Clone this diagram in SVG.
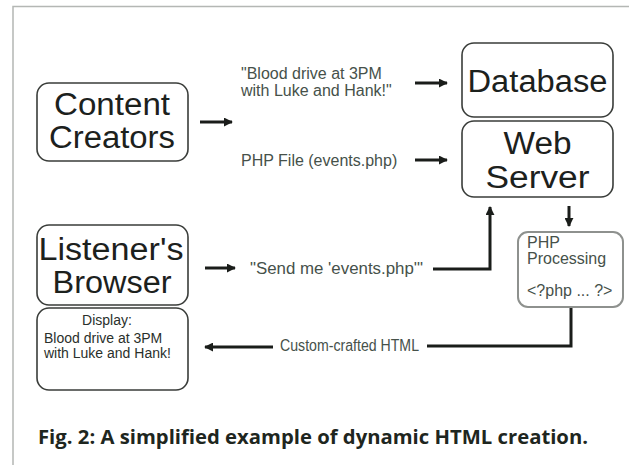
<svg xmlns="http://www.w3.org/2000/svg" width="629" height="465" viewBox="0 0 629 465">
  <style>
    .box { fill: #ffffff; stroke: #3a3d3a; stroke-width: 1.6; }
    .proc { fill: #ffffff; stroke: #8e918e; stroke-width: 2; }
    .big { font-family: "Liberation Sans", Arial, sans-serif; font-size: 31px; fill: #1c211d; text-anchor: middle; }
    .lbl { font-family: "Liberation Sans", Arial, sans-serif; font-size: 16px; fill: #46514a; }
    .sm { font-family: "Liberation Sans", Arial, sans-serif; font-size: 14px; fill: #2a302b; }
    .wire { fill: none; stroke: #1a1d1a; stroke-width: 3; }
    .cap { font-family: "Open Sans", "Liberation Sans", sans-serif; font-size: 20px; font-weight: bold; fill: #1e2620; }
  </style>
  <defs>
    <marker id="head" viewBox="0 0 10 10" refX="9" refY="5" markerWidth="3" markerHeight="3" orient="auto" markerUnits="strokeWidth">
      <path d="M0,0 L10,5 L0,10 Z" fill="#1a1d1a"/>
    </marker>
  </defs>

  <rect width="629" height="465" fill="#ffffff"/>

  <!-- frame -->
  <path d="M13,465 V6.5 H629" fill="none" stroke="#b4b7b4" stroke-width="1.5"/>

  <g id="content-creators">
    <rect class="box" x="37" y="83" width="151" height="78" rx="12"/>
    <text class="big" x="112" y="115" textLength="116" lengthAdjust="spacingAndGlyphs">Content</text>
    <text class="big" x="112" y="148" textLength="126" lengthAdjust="spacingAndGlyphs">Creators</text>
  </g>

  <g id="database">
    <rect class="box" x="462" y="43" width="151" height="74" rx="12"/>
    <text class="big" x="537.5" y="92" textLength="140" lengthAdjust="spacingAndGlyphs">Database</text>
  </g>

  <g id="web-server">
    <rect class="box" x="462" y="121" width="151" height="76" rx="12"/>
    <text class="big" x="537.5" y="154" textLength="68" lengthAdjust="spacingAndGlyphs">Web</text>
    <text class="big" x="537.5" y="188" textLength="104" lengthAdjust="spacingAndGlyphs">Server</text>
  </g>

  <g id="listeners-browser">
    <rect class="box" x="37" y="225" width="151" height="80" rx="12"/>
    <text class="big" x="111" y="260" textLength="145" lengthAdjust="spacingAndGlyphs">Listener's</text>
    <text class="big" x="112" y="293" textLength="119" lengthAdjust="spacingAndGlyphs">Browser</text>
  </g>

  <g id="display">
    <rect class="box" x="37" y="308" width="151" height="82" rx="12"/>
    <text class="sm" x="107" y="325" text-anchor="middle" font-size="15">Display:</text>
    <text class="sm" x="44" y="343">Blood drive at 3PM</text>
    <text class="sm" x="44" y="358">with Luke and Hank!</text>
  </g>

  <g id="php-processing">
    <rect class="proc" x="518" y="232" width="105" height="75" rx="10"/>
    <text class="lbl" x="527" y="248" font-size="15">PHP</text>
    <text class="lbl" x="527" y="264" font-size="15">Processing</text>
    <text class="lbl" x="527" y="296" font-size="15">&lt;?php ... ?&gt;</text>
  </g>

  <g id="connectors">
    <line class="wire" x1="200" y1="122" x2="232" y2="122" marker-end="url(#head)"/>
    <line class="wire" x1="415" y1="83" x2="447" y2="83" marker-end="url(#head)"/>
    <line class="wire" x1="415" y1="160" x2="447" y2="160" marker-end="url(#head)"/>
    <line class="wire" x1="205" y1="268" x2="235" y2="268" marker-end="url(#head)"/>
    <polyline class="wire" points="433,269 490,269 490,207" marker-end="url(#head)"/>
    <line class="wire" x1="569" y1="206" x2="569" y2="226" marker-end="url(#head)"/>
    <polyline class="wire" points="571,308 571,346 427,346"/>
    <line class="wire" x1="273" y1="347" x2="205" y2="347" marker-end="url(#head)"/>
  </g>

  <g id="labels">
    <text class="lbl" x="241" y="79">"Blood drive at 3PM</text>
    <text class="lbl" x="241" y="96">with Luke and Hank!"</text>
    <text class="lbl" x="241" y="166">PHP File (events.php)</text>
    <text class="lbl" x="250" y="274" textLength="173" lengthAdjust="spacingAndGlyphs">"Send me 'events.php'"</text>
    <text class="lbl" x="280" y="351" textLength="139" lengthAdjust="spacingAndGlyphs" font-size="14">Custom-crafted HTML</text>
  </g>

  <text class="cap" x="38" y="444" textLength="550" lengthAdjust="spacingAndGlyphs">Fig. 2: A simplified example of dynamic HTML creation.</text>
</svg>
